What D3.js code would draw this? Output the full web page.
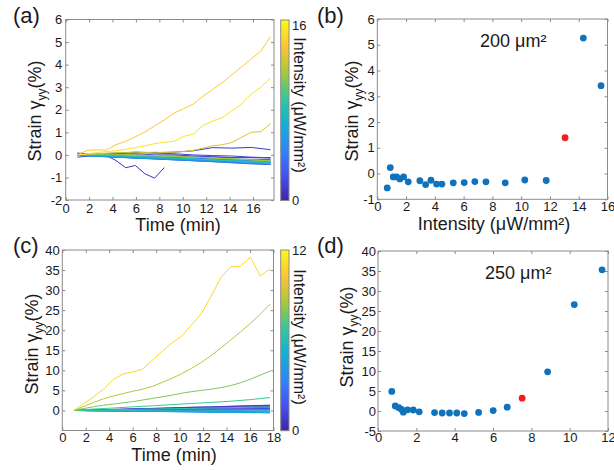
<!DOCTYPE html>
<html><head><meta charset="utf-8">
<script src="https://cdn.jsdelivr.net/npm/d3@7"></script>
<style>body{margin:0;background:#fff} svg{display:block} text{font-family:"Liberation Sans",Arial,sans-serif}</style>
</head><body><svg id="chart" width="614" height="470"></svg>
<script>
// ---------- DATA ----------
const xTicksA = [0,2,4,6,8,10,12,14,16];
const yTicksA = [-2,-1,0,1,2,3,4,5,6];
const xTicksB = [0,2,4,6,8,10,12,14,16];
const yTicksB = [-1,0,1,2,3,4,5,6];
const xTicksC = [0,2,4,6,8,10,12,14,16,18];
const yTicksC = [0,5,10,15,20,25,30,35,40];
const xTicksD = [0,2,4,6,8,10,12];
const yTicksD = [-5,0,5,10,15,20,25,30,35,40];

// time samples (min)
const timesA  = [1.00,1.83,2.65,3.48,4.30,5.13,5.95,6.78,7.60,8.43,9.25,10.08,10.90,11.73,12.55,13.38,14.20,15.03,15.85,16.68,17.50];
const timesAc = [1.00,2.65,4.30,5.95,7.60,9.25,10.90,12.55,14.20,15.85,17.50];
const timesC  = [1.00,1.84,2.67,3.51,4.34,5.18,6.01,6.85,7.68,8.52,9.35,10.19,11.02,11.86,12.69,13.53,14.36,15.20,16.03,16.87,17.70];
const timesCc = [1.00,2.67,4.34,6.01,7.68,9.35,11.02,12.69,14.36,16.03,17.70];

// panel (a): strain vs time, one line per intensity (µW/mm²)
const linesA_intensity = [0.69,0.90,1.11,1.34,1.57,1.83,2.15,2.96,3.36,3.73,4.12,4.49,5.28,6.04,6.78,7.55,8.89,10.25,11.74,13.0,14.32,15.55];
const linesA_values = [
  [0.05,0.02,0.0,-0.03,-0.25,-0.57,-0.47,-0.84,-1.03,-0.56],
  [0.08,0.02,0.08,0.12,0.1,0.12,0.18,0.32,0.3,0.33,0.23],
  [-0.1,-0.02,0.02,0.05,0.0,0.0,-0.05,-0.08,-0.12,-0.12,-0.13],
  [0.0,0.03,0.05,0.1,0.08,0.05,0.0,-0.03,-0.05,-0.1,-0.13],
  [0.0,-0.02,-0.05,-0.08,-0.1,-0.12,-0.15,-0.18,-0.2,-0.2,-0.21],
  [0.0,0.0,0.0,0.0,-0.05,-0.05,-0.08,-0.1,-0.12,-0.12,-0.13],
  [0.0,-0.03,-0.07,-0.1,-0.13,-0.17,-0.2,-0.23,-0.26,-0.29,-0.32],
  [0.02,-0.02,-0.05,-0.08,-0.12,-0.15,-0.17,-0.2,-0.23,-0.26,-0.28],
  [-0.02,-0.06,-0.1,-0.14,-0.18,-0.22,-0.26,-0.3,-0.35,-0.4,-0.43],
  [0.0,-0.03,-0.05,-0.08,-0.1,-0.13,-0.15,-0.18,-0.2,-0.23,-0.26],
  [-0.03,-0.07,-0.1,-0.15,-0.18,-0.22,-0.26,-0.3,-0.34,-0.38,-0.41],
  [0.0,-0.05,-0.1,-0.13,-0.17,-0.21,-0.25,-0.29,-0.33,-0.37,-0.41],
  [0.0,-0.04,-0.08,-0.12,-0.15,-0.19,-0.22,-0.26,-0.29,-0.33,-0.36],
  [-0.02,-0.05,-0.09,-0.12,-0.16,-0.19,-0.22,-0.25,-0.29,-0.32,-0.35],
  [0.0,-0.03,-0.06,-0.1,-0.13,-0.16,-0.19,-0.22,-0.25,-0.28,-0.31],
  [0.02,-0.02,-0.05,-0.08,-0.12,-0.15,-0.18,-0.22,-0.25,-0.28,-0.32],
  [0.0,0.0,-0.03,-0.07,-0.1,-0.14,-0.18,-0.22,-0.26,-0.31,-0.36],
  [0.0,0.02,0.0,-0.02,-0.05,-0.08,-0.1,-0.14,-0.17,-0.21,-0.25],
  [0.02,0.05,0.03,0.0,-0.03,-0.06,-0.1,-0.14,-0.18,-0.22,-0.27],
  [0,0.03,0.05,0.08,0.1,0.1,0.12,0.1,0.12,0.1,0.12,0.15,0.2,0.3,0.4,0.45,0.55,0.78,1.0,1.03,1.39],
  [0,0.2,0.22,0.22,0.45,0.6,0.8,1.02,1.28,1.55,1.85,2.05,2.25,2.6,2.9,3.2,3.55,3.9,4.25,4.6,5.24],
  [0,0.05,0.1,0.15,0.18,0.25,0.32,0.4,0.5,0.56,0.6,0.82,0.92,1.3,1.5,1.65,1.95,2.25,2.7,3.0,3.4]
];

// panel (b): final strain vs intensity, 200 µm²
const intensityB = [0.69,0.90,1.11,1.34,1.57,1.83,2.15,2.96,3.36,3.73,4.12,4.49,5.28,6.04,6.78,7.55,8.89,10.25,11.74,13.05,14.32,15.55];
const strainB    = [-0.56,0.23,-0.13,-0.13,-0.21,-0.13,-0.32,-0.28,-0.43,-0.26,-0.41,-0.41,-0.36,-0.35,-0.31,-0.32,-0.36,-0.25,-0.27,1.39,5.26,3.41];
const highlightB = [19];

const linesC_intensity = [0.72,0.90,1.09,1.23,1.32,1.54,1.84,2.15,2.95,3.35,3.73,4.11,4.50,5.25,6.01,6.40,6.9,7.9,8.9,10.9];
const linesC_values = [
  [0,0.15,0.25,0.4,0.5,0.65,0.8,0.9,1.05,1.2,1.3],
  [0,0.1,0.25,0.35,0.5,0.6,0.75,0.85,1.0,1.1,1.25],
  [0,0.1,0.15,0.3,0.35,0.5,0.55,0.7,0.75,0.9,1.0],
  [0,0.05,0.15,0.2,0.3,0.35,0.45,0.5,0.6,0.7,0.8],
  [0,0.05,0.1,0.15,0.2,0.25,0.3,0.3,0.4,0.45,0.5],
  [0,0.0,0.05,0.1,0.1,0.15,0.2,0.2,0.25,0.3,0.3],
  [0,0.0,0.05,0.05,0.1,0.1,0.1,0.15,0.15,0.2,0.2],
  [0,-0.05,0.0,-0.05,-0.05,0.0,-0.05,-0.1,-0.05,-0.1,-0.1],
  [0,-0.05,-0.05,-0.1,-0.15,-0.2,-0.25,-0.3,-0.3,-0.35,-0.4],
  [0,-0.05,-0.1,-0.15,-0.2,-0.2,-0.25,-0.3,-0.35,-0.4,-0.45],
  [0,-0.05,-0.1,-0.15,-0.2,-0.25,-0.3,-0.35,-0.4,-0.45,-0.5],
  [0,-0.1,-0.1,-0.2,-0.2,-0.3,-0.35,-0.4,-0.45,-0.5,-0.55],
  [0,-0.05,-0.15,-0.2,-0.25,-0.3,-0.35,-0.45,-0.5,-0.55,-0.6],
  [0,-0.05,-0.1,-0.15,-0.15,-0.2,-0.25,-0.3,-0.35,-0.4,-0.45],
  [0,0.0,0.05,0.0,0.05,0.05,0.1,0.05,0.1,0.1,0.1],
  [0,0.1,0.2,0.25,0.35,0.45,0.5,0.6,0.7,0.8,0.9],
  [0,0.35,0.6,0.9,1.15,1.45,1.75,2.0,2.3,2.7,3.2],
  [0,0.5,0.9,1.3,1.6,1.9,2.2,2.6,3.0,3.4,3.8,4.3,4.7,5.0,5.3,5.7,6.2,6.9,7.8,8.8,9.8],
  [0,1.0,2.0,2.9,3.6,4.2,4.8,5.3,6.0,7.0,8.0,9.2,10.5,12.0,13.7,15.6,17.6,19.6,21.7,24.0,26.5],
  [0,1.7,3.4,5.3,7.7,9.1,9.6,10.3,12.5,14.8,16.8,18.6,21.3,24.2,28.5,33.2,35.8,36.0,38.2,33.5,35.3]
];

// panel (d): final strain vs intensity, 250 µm²
const intensityD = [0.72,0.90,1.09,1.23,1.32,1.54,1.84,2.15,2.95,3.35,3.73,4.11,4.50,5.25,6.01,6.74,7.52,8.85,10.24,11.69];
const strainD    = [4.9,1.25,0.83,0.4,-0.3,0.3,0.25,-0.2,-0.4,-0.5,-0.5,-0.5,-0.65,-0.35,0.1,0.95,3.2,9.8,26.6,35.3];
const highlightD = [16];

const cbMaxA = 16.5, cbTicksA = [0,16];
const cbMaxC = 12,   cbTicksC = [0,12];

// ---------- DRAW ----------
const svg = d3.select("#chart");
const parulaHex = ["#3e26a8","#4852f4","#2d87f7","#11b1d6","#37c897","#abc739","#fec338","#f9fb15"];
const parula = d3.scaleLinear().domain(parulaHex.map((c,i)=>i/(parulaHex.length-1))).range(parulaHex).interpolate(d3.interpolateRgb);
const FRAME = "#8a8a8a", TXT = "#1a1a1a";

function axes(o){
  const x = d3.scaleLinear().domain(o.xd).range([o.l,o.r]);
  const y = d3.scaleLinear().domain(o.yd).range([o.b,o.t]);
  const g = svg.append("g");
  const fmt = d=>String(d);
  const style = sel => {
    sel.select(".domain").remove();
    sel.selectAll(".tick line").attr("stroke",FRAME);
    sel.selectAll(".tick text").attr("fill",TXT).style("font-size","13px").style("font-family",'"Liberation Sans",Arial,sans-serif');
  };
  g.append("g").attr("transform",`translate(0,${o.b})`)
    .call(d3.axisBottom(x).tickValues(o.xt).tickSizeInner(-3).tickSizeOuter(0).tickPadding(o.xpad).tickFormat(fmt)).call(style);
  g.append("g").attr("transform",`translate(0,${o.t})`)
    .call(d3.axisTop(x).tickValues(o.xt).tickSizeInner(-3).tickSizeOuter(0).tickFormat("")).call(style);
  g.append("g").attr("transform",`translate(${o.l},0)`)
    .call(d3.axisLeft(y).tickValues(o.yt).tickSizeInner(-3).tickSizeOuter(0).tickPadding(o.ypad).tickFormat(fmt)).call(style);
  g.append("g").attr("transform",`translate(${o.r},0)`)
    .call(d3.axisRight(y).tickValues(o.yt).tickSizeInner(-3).tickSizeOuter(0).tickFormat("")).call(style);
  g.append("rect").attr("x",o.l).attr("y",o.t).attr("width",o.r-o.l).attr("height",o.b-o.t)
    .attr("fill","none").attr("stroke",FRAME).attr("stroke-width",1);
  return {x,y,g};
}

function strainLabel(cx,cy){
  const t = svg.append("text").attr("transform",`translate(${cx},${cy}) rotate(-90)`)
    .attr("text-anchor","middle").attr("dy","0.35em").attr("fill",TXT).style("font-size","18px");
  t.append("tspan").text("Strain γ");
  t.append("tspan").text("yy").style("font-size","12px").attr("dy","5");
  t.append("tspan").text("(%)").attr("dy","-5");
}
function text(x,y,s,size,anchor){
  return svg.append("text").attr("x",x).attr("y",y).attr("fill",TXT).style("font-size",size+"px")
    .attr("text-anchor",anchor||"start").text(s);
}

function colorbar(id,x0,x1,y0,y1,max,ticks,labelY){
  const defs = svg.append("defs");
  const grad = defs.append("linearGradient").attr("id",id).attr("x1",0).attr("y1",1).attr("x2",0).attr("y2",0);
  parulaHex.forEach((c,i)=>grad.append("stop").attr("offset",i/(parulaHex.length-1)).attr("stop-color",c));
  svg.append("rect").attr("x",x0).attr("y",y0).attr("width",x1-x0).attr("height",y1-y0)
    .attr("fill",`url(#${id})`).attr("stroke",FRAME).attr("stroke-width",1);
  const s = d3.scaleLinear().domain([0,max]).range([y1,y0]);
  ticks.forEach(v=>{
    svg.append("text").attr("x",x1+3).attr("y",s(v)).attr("dy","0.35em").attr("fill",TXT).style("font-size","13px").text(v);
  });
  svg.append("text").attr("transform",`translate(${x1+11},${labelY}) rotate(90)`)
    .attr("text-anchor","middle").attr("dy","0.35em").attr("fill",TXT).style("font-size","16px")
    .text("Intensity (μW/mm²)");
}

const line = (x,y,times)=>d3.line().x((d,i)=>x(times[i])).y(d=>y(d));
function pickTimes(vals, full, coarse){ return vals.length===coarse.length ? coarse : full; }

// ----- (a) -----
{
  const o = {l:65.7,r:274,t:19.5,b:200,xd:[0,17.8],yd:[-2,6],xt:xTicksA,yt:yTicksA,xpad:4,ypad:3.5};
  const {x,y} = axes(o);
  linesA_values.forEach((vals,k)=>{
    const times = pickTimes(vals,timesA,timesAc);
    svg.append("path").attr("d",line(x,y,times)(vals)).attr("fill","none")
      .attr("stroke",parula(linesA_intensity[k]/cbMaxA)).attr("stroke-width",1);
  });
  colorbar("cbA",280.7,289,20,200.5,cbMaxA,cbTicksA,105);
  strainLabel(35,111);
  text(178,231,"Time (min)",18,"middle");
  text(13,23,"(a)",22);
}
// ----- (b) -----
{
  const o = {l:377.3,r:607.5,t:19,b:199.3,xd:[0,16],yd:[-1,6],xt:xTicksB,yt:yTicksB,xpad:2.5,ypad:2.5};
  const {x,y} = axes(o);
  svg.append("g").selectAll("circle").data(intensityB).join("circle")
    .attr("cx",d=>x(d)).attr("cy",(d,i)=>y(strainB[i])).attr("r",3.4)
    .attr("fill",(d,i)=>highlightB.includes(i)?"#f21d1d":"#0f72bd");
  strainLabel(352,111);
  text(494,230,"Intensity (μW/mm²)",18,"middle");
  text(480,47,"200 μm²",18);
  text(317,23,"(b)",22);
}
// ----- (c) -----
{
  const o = {l:62.3,r:273.5,t:250,b:430.5,xd:[0,18],yd:[-5,40],xt:xTicksC,yt:yTicksC,xpad:2,ypad:2.5};
  const {x,y} = axes(o);
  linesC_values.forEach((vals,k)=>{
    const times = pickTimes(vals,timesC,timesCc);
    svg.append("path").attr("d",line(x,y,times)(vals)).attr("fill","none")
      .attr("stroke",parula(linesC_intensity[k]/cbMaxC)).attr("stroke-width",1);
  });
  colorbar("cbC",280.7,289,250,430.7,cbMaxC,cbTicksC,337);
  strainLabel(32,344);
  text(174,461,"Time (min)",18,"middle");
  text(13,253,"(c)",22);
}
// ----- (d) -----
{
  const o = {l:378,r:608,t:251,b:431,xd:[0,12],yd:[-5,40],xt:xTicksD,yt:yTicksD,xpad:2,ypad:2};
  const {x,y} = axes(o);
  svg.append("g").selectAll("circle").data(intensityD).join("circle")
    .attr("cx",d=>x(d)).attr("cy",(d,i)=>y(strainD[i])).attr("r",3.4)
    .attr("fill",(d,i)=>highlightD.includes(i)?"#f21d1d":"#0f72bd");
  strainLabel(347,337);
  text(485,279,"250 μm²",18);
  text(317,253,"(d)",22);
}
</script></body></html>
